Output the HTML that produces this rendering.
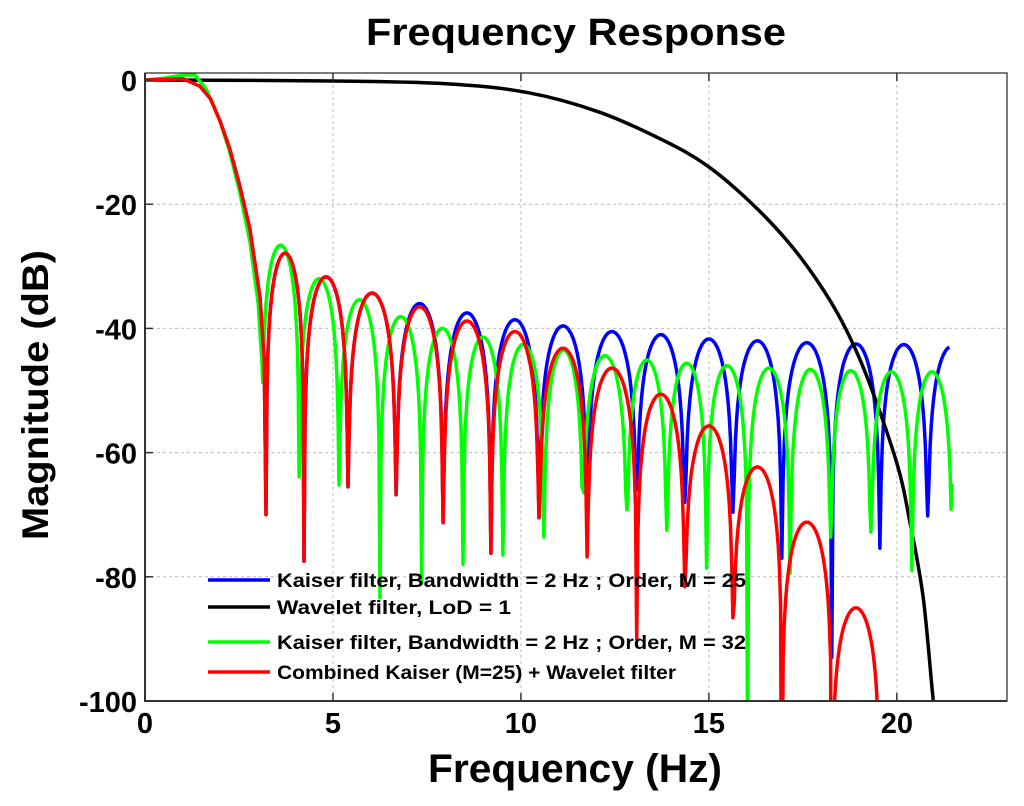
<!DOCTYPE html>
<html><head><meta charset="utf-8"><style>
html,body{margin:0;background:#fff;overflow:hidden;width:1024px;height:806px;}
svg{display:block;font-family:"Liberation Sans",sans-serif;font-weight:bold;overflow:hidden;}
</style></head><body>
<svg id="chart" width="1024" height="806" xmlns="http://www.w3.org/2000/svg"></svg>
<script>
// ---- data ----
const xTicks = [0, 5, 10, 15, 20];
const yTicks = [0, -20, -40, -60, -80, -100];
// main lobe points [Hz, dB]
const mainLobeM25 = [[0,0],[0.51,0.1],[1.02,0.2],[1.46,-1],[1.74,-3],[1.99,-6.5],[2.25,-11],[2.52,-17],[2.79,-24],[3.06,-35],[3.17,-45]];
const mainLobeM32 = [[0,0],[0.51,0.3],[1.02,0.8],[1.33,0.8],[1.63,-1.5],[1.99,-6.5],[2.25,-11.5],[2.52,-18],[2.79,-26],[3.01,-36],[3.11,-45.4]];
// sidelobes: null freqs (Hz), null depths (dB), lobe peaks (dB)
const blueNulls = [3.22,4.23,5.40,6.68,7.93,9.20,10.48,11.76,13.08,14.36,15.64,16.94,18.27,19.55,20.82,22.1];
const blueDepths = [-70,-77.5,-65.5,-66.8,-71.3,-76.2,-70.5,-70,-66,-68,-69.6,-77,-93,-75.4,-70.2,-70];
const bluePeaks = [-27.9,-31.7,-34.3,-36,-37.5,-38.6,-39.6,-40.5,-41,-41.7,-42,-42.3,-42.5,-42.6,-42.9];
const blueEnd = 21.41;
const redNulls = [3.22,4.23,5.40,6.68,7.93,9.20,10.48,11.76,13.08,14.36,15.64,16.94,18.27,19.55];
const redDepths = [-70,-77.5,-65.5,-66.8,-71.3,-76.2,-70.5,-76.8,-90,-81.6,-86.6,-140,-140,-160];
const redPeaks = [-27.9,-31.7,-34.3,-36.5,-38.8,-40.5,-43.2,-46.4,-50.6,-55.7,-62.3,-71.2,-85];
const greenNulls = [3.11,4.10,5.16,6.25,7.36,8.46,9.52,10.61,11.65,12.82,13.88,14.94,16.03,17.16,18.24,19.31,20.40,21.47];
const greenDepths = [-45.4,-63.9,-65.2,-83.4,-81,-78,-76.5,-73.6,-66,-69.2,-72.5,-78.6,-110,-79.4,-73.6,-72.8,-79,-65];
const greenPeaks = [-26.6,-32,-35.4,-38.1,-40,-41.4,-42.6,-43.5,-44.4,-45.1,-45.6,-46,-46.4,-46.6,-46.8,-47,-47];
const waveletX = [0,5,8,10.16,12.1,13.88,15.0,16.09,17.07,17.87,18.55,19.2,20.0,20.35,20.7,20.96,21.1];
const waveletY = [0,-0.15,-0.6,-2,-5.2,-10,-14,-19.6,-25.8,-32.2,-39,-47.7,-61.7,-71.3,-83.3,-99.4,-106];

// ---- layout ----
const L=145,T=73,R=1007,B=701;
const xMax=22.93, yMin=-100, yMax=1.13;
const sx = v => L + v/xMax*(R-L);
const sy = v => T + (yMax-v)/(yMax-yMin)*(B-T);
const svg=document.getElementById('chart');
const NS='http://www.w3.org/2000/svg';
function mk(tag,attrs,parent){const e=document.createElementNS(NS,tag);for(const k in attrs)e.setAttribute(k,attrs[k]);(parent||svg).appendChild(e);return e;}

const defs=mk('defs',{});
const cp=mk('clipPath',{id:'clip'},defs);
mk('rect',{x:L,y:T,width:R-L,height:B-T},cp);

// grid
xTicks.slice(1).forEach(v=>{const g=mk('line',{x1:sx(v),x2:sx(v),y1:T,y2:B,stroke:'#bbb','stroke-width':1,'stroke-dasharray':'3,3'});

});
yTicks.slice(1,-1).forEach(v=>{const g=mk('line',{x1:L,x2:R,y1:sy(v),y2:sy(v),stroke:'#bbb','stroke-width':1,'stroke-dasharray':'3,3'});

});

function lobePts(nulls,depths,peaks,main,end){
  const pts=main.map(p=>[p[0],p[1]]);
  for(let i=0;i<peaks.length;i++){
    const a=nulls[i],b=nulls[i+1];
    const N=40;
    for(let k=0;k<=N;k++){
      const t=k/N; const s=Math.sin(Math.PI*t);
      let d=peaks[i]+20*Math.log10(Math.max(s,1e-6));
      const floor = depths[i]+(depths[i+1]-depths[i])*t;
      if(k===0) d=depths[i]; else if(k===N) d=depths[i+1];
      d=Math.max(d,Math.min(depths[i],depths[i+1],floor));
      const x=a+(b-a)*t;
      if(end!==undefined && x>end) break;
      pts.push([x,d]);
    }
  }
  return pts;
}
function drawLine(pts,color,name){
  const p=mk('polyline',{points:pts.map(q=>sx(q[0]).toFixed(1)+','+sy(q[1]).toFixed(1)).join(' '),fill:'none',stroke:color,'stroke-width':3.5,'stroke-linejoin':'round','clip-path':'url(#clip)'});
  
  
}
function drawSmooth(xs,ys,color,name){
  const P=xs.map((x,i)=>[sx(x),sy(ys[i])]);
  let d='M'+P[0][0]+','+P[0][1];
  for(let i=0;i<P.length-1;i++){
    const p0=P[Math.max(i-1,0)],p1=P[i],p2=P[i+1],p3=P[Math.min(i+2,P.length-1)];
    const c1=[p1[0]+(p2[0]-p0[0])/6,p1[1]+(p2[1]-p0[1])/6];
    const c2=[p2[0]-(p3[0]-p1[0])/6,p2[1]-(p3[1]-p1[1])/6];
    d+=' C'+c1.join(',')+' '+c2.join(',')+' '+p2.join(',');
  }
  const p=mk('path',{d:d,fill:'none',stroke:color,'stroke-width':3.5,'clip-path':'url(#clip)'});
  
  
}
drawLine(lobePts(blueNulls,blueDepths,bluePeaks,mainLobeM25,blueEnd),'#0000ff','kaiser-m25-line');
drawSmooth(waveletX,waveletY,'#000000','wavelet-line');
drawLine(lobePts(greenNulls,greenDepths,greenPeaks,mainLobeM32),'#00ff00','kaiser-m32-line');
drawLine(lobePts(redNulls,redDepths,redPeaks,mainLobeM25),'#ff0000','combined-line');

// axes frame
const fr=mk('rect',{x:L,y:T,width:R-L,height:B-T,fill:'none',stroke:'#222','stroke-width':1.2});


mk('line',{x1:L,x2:L,y1:T,y2:B+1,stroke:'#333','stroke-width':2});
mk('line',{x1:L,x2:R,y1:B,y2:B,stroke:'#333','stroke-width':2});

xTicks.forEach(v=>{
  mk('line',{x1:sx(v),x2:sx(v),y1:B,y2:B-8,stroke:'#333','stroke-width':1.5});
  mk('line',{x1:sx(v),x2:sx(v),y1:T,y2:T+8,stroke:'#333','stroke-width':1.5});
  const t=mk('text',{x:sx(v),y:B+32,'text-anchor':'middle','font-size':29});t.textContent=v;
  
  
});
yTicks.forEach(v=>{
  mk('line',{x1:L,x2:L+8,y1:sy(v),y2:sy(v),stroke:'#333','stroke-width':1.5});
  const t=mk('text',{x:L-8,y:sy(v)+11,'text-anchor':'end','font-size':29});t.textContent=v;
  
  
});

const ti=mk('text',{x:366,y:45,'font-size':38,textLength:420,lengthAdjust:'spacingAndGlyphs'});ti.textContent='Frequency Response';


const xl=mk('text',{x:428,y:782,'font-size':40,textLength:294,lengthAdjust:'spacingAndGlyphs'});xl.textContent='Frequency (Hz)';


const yl=mk('text',{x:-540,y:48,'font-size':37,textLength:290,lengthAdjust:'spacingAndGlyphs',transform:'rotate(-90)'});yl.textContent='Magnitude (dB)';



// legend
const legLabels=['Kaiser filter, Bandwidth = 2 Hz ; Order, M = 25','Wavelet filter, LoD = 1','Kaiser filter, Bandwidth = 2 Hz ; Order, M = 32','Combined Kaiser (M=25) + Wavelet filter'];
const legColors=['#0000ff','#000000','#00ff00','#ff0000'];
const legY=[580,607,642,672];
const legLen=[469,234,469,399];
legLabels.forEach((s,i)=>{
  const g=mk('g',{});
  
  
  mk('line',{x1:208,x2:270,y1:legY[i],y2:legY[i],stroke:legColors[i],'stroke-width':3.5},g);
  const t=mk('text',{x:277,y:legY[i]+7,'font-size':19,textLength:legLen[i],lengthAdjust:'spacingAndGlyphs'},g);t.textContent=s;
});
</script>
</body></html>
